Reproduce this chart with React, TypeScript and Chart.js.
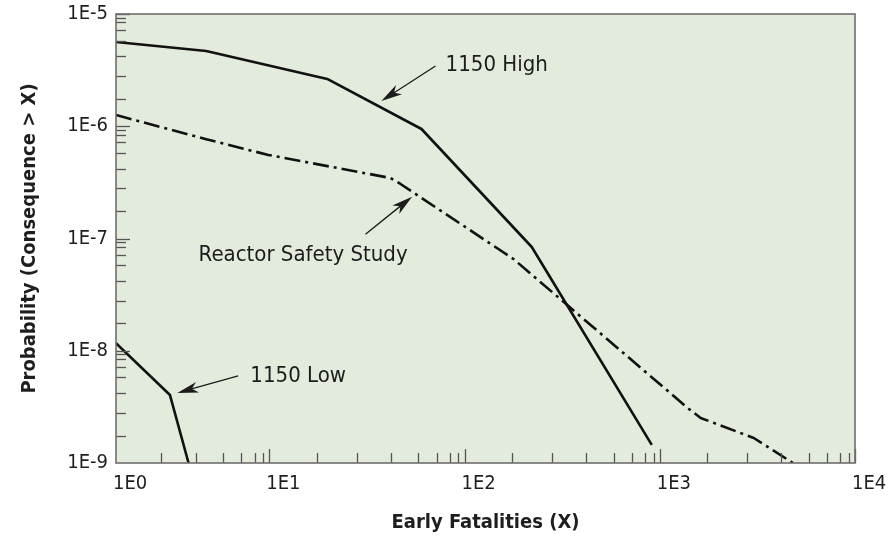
import React, { useEffect, useRef } from 'react';
import { Chart, registerables } from 'chart.js';

Chart.register(...registerables);

// ---- axis ranges & ticks ----
const X_MIN = 1.64; // left edge of the frame, labelled "1E0" in the original
const X_MAX = 10000;
const Y_MIN = 1e-9;
const Y_MAX = 1e-5;

const xMajorValues = [X_MIN, 10, 100, 1000, 10000];
const xTickLabels = ['1E0', '1E1', '1E2', '1E3', '1E4'];
const yMajorValues = [1e-9, 1e-8, 1e-7, 1e-6, 1e-5];
const yTickLabels = ['1E-9', '1E-8', '1E-7', '1E-6', '1E-5'];
const minorMultipliers = [1.75, 2.8, 4.2, 5.8, 7.2, 8.4, 9.3];
const xDecades = [1, 10, 100, 1000];
const yDecades = [1e-9, 1e-8, 1e-7, 1e-6];

// ---- series ----
const seriesNames = ['1150 High', 'Reactor Safety Study', '1150 Low'];
const highX = [1.64, 4.75, 19.8, 60.2, 221, 910];
const highY = [5.63e-6, 4.68e-6, 2.64e-6, 9.45e-7, 8.4e-8, 1.45e-9];
const rssX = [1.64, 4.7, 9.9, 41.7, 47.0, 178, 1390, 1620, 3030, 4810];
const rssY = [1.26e-6, 7.7e-7, 5.55e-7, 3.46e-7, 3.06e-7, 6.57e-8, 3.09e-9, 2.52e-9, 1.67e-9, 1e-9];
const lowX = [1.64, 3.1, 3.86];
const lowY = [1.17e-8, 4.03e-9, 1e-9];

// ---- annotations (data coordinates) ----
const annotationTexts = ['1150 High', 'Reactor Safety Study', '1150 Low'];
const annotationTextX = [80, 14.9, 8.0];
const annotationTextY = [3.5e-6, 7.13e-8, 5.96e-9];
const annotationAlign = ['left', 'center', 'left'];
const arrowTailX = [71, 31.1, 6.93];
const arrowTailY = [3.44e-6, 1.09e-7, 5.96e-9];
const arrowTipX = [37.5, 53.9, 3.38];
const arrowTipY = [1.68e-6, 2.36e-7, 4.21e-9];

const FONT = '"Liberation Sans Narrow", "Arial Narrow", "DejaVu Sans Condensed", "Roboto Condensed", sans-serif';
const PLOT_BG = '#e3ebdc';
const FRAME = '#6e6e6e';
const TICK = '#555555';
const INK = '#1e1e1e';

const buildTicks = (majors: number[], decades: number[], min: number, max: number) => {
  const vals: number[] = [...majors];
  decades.forEach((d) => {
    minorMultipliers.forEach((m) => {
      const v = d * m;
      if (v > min * 1.1 && v < max) vals.push(v);
    });
  });
  return vals.sort((a, b) => a - b);
};
const xTickValues = buildTicks(xMajorValues, xDecades, X_MIN, X_MAX);
const yTickValues = buildTicks(yMajorValues, yDecades, Y_MIN, Y_MAX);

const isMajor = (list: number[], v: number) => list.findIndex((m) => Math.abs(m - v) / m < 1e-6);

const framePlugin = {
  id: 'frameAndNotes',
  beforeDraw(chart: any) {
    const { ctx, chartArea: a } = chart;
    ctx.save();
    ctx.fillStyle = PLOT_BG;
    ctx.fillRect(a.left, a.top, a.right - a.left, a.bottom - a.top);
    ctx.restore();
  },
  afterDatasetsDraw(chart: any) {
    const { ctx } = chart;
    const xs = chart.scales.x;
    const ys = chart.scales.y;
    ctx.save();
    ctx.fillStyle = '#1c1c1c';
    ctx.strokeStyle = '#1c1c1c';
    ctx.font = `22px ${FONT}`;
    ctx.textBaseline = 'middle';
    annotationTexts.forEach((t, i) => {
      ctx.textAlign = annotationAlign[i] as CanvasTextAlign;
      ctx.fillText(t, xs.getPixelForValue(annotationTextX[i]), ys.getPixelForValue(annotationTextY[i]));
      const tx = xs.getPixelForValue(arrowTailX[i]);
      const ty = ys.getPixelForValue(arrowTailY[i]);
      const px = xs.getPixelForValue(arrowTipX[i]);
      const py = ys.getPixelForValue(arrowTipY[i]);
      const len = Math.hypot(px - tx, py - ty);
      const dx = (px - tx) / len;
      const dy = (py - ty) / len;
      const nx = -dy;
      const ny = dx;
      const L = 21;
      const W = 5.5;
      ctx.lineWidth = 1.3;
      ctx.beginPath();
      ctx.moveTo(tx, ty);
      ctx.lineTo(px - dx * L * 0.7, py - dy * L * 0.7);
      ctx.stroke();
      ctx.beginPath();
      ctx.moveTo(px, py);
      ctx.lineTo(px - dx * L + nx * W, py - dy * L + ny * W);
      ctx.lineTo(px - dx * L * 0.72, py - dy * L * 0.72);
      ctx.lineTo(px - dx * L - nx * W, py - dy * L - ny * W);
      ctx.closePath();
      ctx.fill();
    });
    ctx.restore();
  },
  afterDraw(chart: any) {
    const { ctx, chartArea: a } = chart;
    const xs = chart.scales.x;
    const ys = chart.scales.y;
    ctx.save();
    ctx.strokeStyle = TICK;
    ctx.lineWidth = 1.3;
    xs.ticks.forEach((t: any) => {
      const p = Math.round(xs.getPixelForValue(t.value)) + 0.5;
      if (p <= a.left + 2) return;
      const len = isMajor(xMajorValues, t.value) >= 0 ? 14 : 10;
      ctx.beginPath();
      ctx.moveTo(p, a.bottom);
      ctx.lineTo(p, a.bottom - len);
      ctx.stroke();
    });
    ys.ticks.forEach((t: any) => {
      const p = Math.round(ys.getPixelForValue(t.value)) + 0.5;
      if (p >= a.bottom - 2) return;
      const len = isMajor(yMajorValues, t.value) >= 0 ? 14 : 10;
      ctx.beginPath();
      ctx.moveTo(a.left, p);
      ctx.lineTo(a.left + len, p);
      ctx.stroke();
    });
    ctx.strokeStyle = FRAME;
    ctx.lineWidth = 1.6;
    ctx.strokeRect(a.left, a.top, a.right - a.left, a.bottom - a.top);
    ctx.restore();
  },
};

export default function App() {
  const ref = useRef<HTMLCanvasElement>(null);
  useEffect(() => {
    const canvas = ref.current;
    if (!canvas) return;
    const line = (name: string, xs: number[], ys: number[], dash: number[]) => ({
      label: name,
      data: xs.map((x, i) => ({ x, y: ys[i] })),
      borderColor: '#111111',
      borderWidth: 2.6,
      borderDash: dash,
      borderCapStyle: 'butt' as const,
      borderJoinStyle: 'round' as const,
      pointRadius: 0,
      tension: 0,
      fill: false,
    });
    const chart = new Chart(canvas, {
      type: 'line',
      data: {
        datasets: [
          line(seriesNames[0], highX, highY, []),
          line(seriesNames[1], rssX, rssY, [16, 5, 3, 5]),
          line(seriesNames[2], lowX, lowY, []),
        ],
      },
      options: {
        responsive: false,
        animation: false,
        devicePixelRatio: 1,
        layout: { padding: { left: 18, top: 14, right: 41, bottom: 5 } },
        plugins: { legend: { display: false }, tooltip: { enabled: false } },
        scales: {
          x: {
            type: 'logarithmic',
            min: X_MIN,
            max: X_MAX,
            position: 'bottom',
            grid: { display: false, drawTicks: false },
            border: { display: false },
            afterBuildTicks: (s: any) => {
              s.ticks = xTickValues.map((v) => ({ value: v }));
            },
            afterFit: (s: any) => {
              s.height = 72;
              s.paddingLeft = 0;
              s.paddingRight = 0;
            },
            ticks: {
              autoSkip: false,
              maxRotation: 0,
              align: 'start',
              labelOffset: -3,
              padding: 9,
              color: INK,
              font: { family: FONT, size: 20 },
              callback: (v: any) => {
                const i = isMajor(xMajorValues, Number(v));
                return i >= 0 ? xTickLabels[i] : '';
              },
            },
            title: {
              display: true,
              text: 'Early Fatalities (X)',
              color: INK,
              padding: 0,
              font: { family: FONT, size: 20, weight: 'bold' },
            },
          },
          y: {
            type: 'logarithmic',
            min: Y_MIN,
            max: Y_MAX,
            position: 'left',
            grid: { display: false, drawTicks: false },
            border: { display: false },
            afterBuildTicks: (s: any) => {
              s.ticks = yTickValues.map((v) => ({ value: v }));
            },
            afterFit: (s: any) => {
              s.width = 98;
              s.paddingTop = 0;
              s.paddingBottom = 0;
            },
            ticks: {
              autoSkip: false,
              padding: 8,
              color: INK,
              font: { family: FONT, size: 20 },
              callback: (v: any) => {
                const i = isMajor(yMajorValues, Number(v));
                return i >= 0 ? yTickLabels[i] : '';
              },
            },
            title: {
              display: true,
              text: 'Probability (Consequence > X)',
              color: INK,
              padding: 0,
              font: { family: FONT, size: 20, weight: 'bold' },
            },
          },
        },
      },
      plugins: [framePlugin],
    } as any);
    return () => chart.destroy();
  }, []);
  return (
    <div style={{ position: 'fixed', left: 0, top: 0, width: 896, height: 540, background: '#ffffff' }}>
      <canvas ref={ref} width={896} height={540} style={{ display: 'block', width: 896, height: 540 }} />
    </div>
  );
}
